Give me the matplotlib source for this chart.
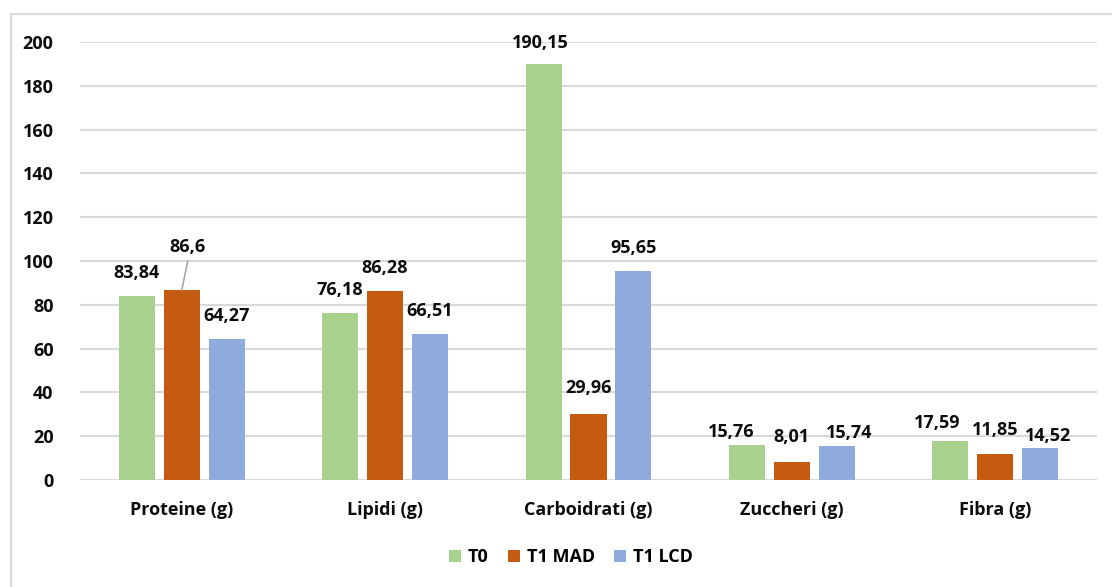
import numpy as np
import matplotlib.pyplot as plt
from matplotlib.patches import Patch
from matplotlib.lines import Line2D

plt.rcParams['font.family'] = ['Open Sans', 'DejaVu Sans']
plt.rcParams['font.weight'] = 'bold'

# data
categories = ['Proteine (g)', 'Lipidi (g)', 'Carboidrati (g)', 'Zuccheri (g)', 'Fibra (g)']
series_names = ['T0', 'T1 MAD', 'T1 LCD']
t0 = [83.84, 76.18, 190.15, 15.76, 17.59]
t1_mad = [86.6, 86.28, 29.96, 8.01, 11.85]
t1_lcd = [64.27, 66.51, 95.65, 15.74, 14.52]
yticks = [0, 20, 40, 60, 80, 100, 120, 140, 160, 180, 200]

colors = ['#A9D18E', '#C55A11', '#8FAADC']

# labels that were nudged by hand (series, category) -> (dx, dy) in pixels
label_moves = {
    (1, 0): (6, 43),
    (0, 3): (-16, 13), (1, 3): (0, 25), (2, 3): (12, 13),
    (0, 4): (-13, 18), (1, 4): (0, 24), (2, 4): (8, 12),
    (0, 2): (-3, 21), (1, 2): (0, 26),
}

def fmt(v):
    s = ('%.2f' % v).rstrip('0').rstrip('.')
    return s.replace('.', ',')

FS = 13
TXT = '#0d0d0d'

W, H = 1112, 587
fig = plt.figure(figsize=(W / 100, H / 100), dpi=100)
ax = fig.add_axes([80 / W, 1 - 480 / H, (1097 - 80) / W, (480 - 42) / H])

# chart border (top and left edges visible)
fig.add_artist(Line2D([11 / W, 1], [1 - 14 / H, 1 - 14 / H], transform=fig.transFigure,
                      color='#d9d9d9', lw=1.5))
fig.add_artist(Line2D([11 / W, 11 / W], [0, 1 - 14 / H], transform=fig.transFigure,
                      color='#d9d9d9', lw=1.5))

x = np.arange(len(categories))
step = 0.221
width = 0.177
all_series = [t0, t1_mad, t1_lcd]

for k, vals in enumerate(all_series):
    xs = x + (k - 1) * step
    ax.bar(xs, vals, width, color=colors[k], zorder=3, label=series_names[k])
    for i, v in enumerate(vals):
        dx, dy = label_moves.get((k, i), (0, 23))
        ax.annotate(fmt(v), (xs[i], v), xytext=(dx, dy), textcoords='offset pixels',
                    ha='center', va='center', fontsize=FS, fontweight='bold',
                    color=TXT, zorder=5)
        if (k, i) == (1, 0):
            # leader line for the displaced label
            ax.annotate('', (xs[i], v), xytext=(dx, dy - 14), textcoords='offset pixels',
                        arrowprops=dict(arrowstyle='-', color='#a6a6a6', lw=1.2,
                                        shrinkA=0, shrinkB=0))

ax.set_xlim(-0.5, len(categories) - 0.5)
ax.set_ylim(0, 200)
ax.set_yticks(yticks)
ax.set_yticklabels([str(t) for t in yticks], fontsize=FS, fontweight='bold', color=TXT)
ax.set_xticks(x)
ax.set_xticklabels(categories, fontsize=FS, fontweight='bold', color=TXT)
ax.tick_params(axis='y', length=0, pad=19)
ax.tick_params(axis='x', length=0, pad=15)
ax.grid(axis='y', color='#d9d9d9', lw=1.5, zorder=0)
for s in ax.spines.values():
    s.set_visible(False)

handles = [Patch(facecolor=c, label=n) for c, n in zip(colors, series_names)]
fig.legend(handles=handles, loc='center', bbox_to_anchor=(571 / W, 1 - 557 / H), ncol=3,
           frameon=False, handlelength=0.67, handleheight=0.67,
           handletextpad=0.4, columnspacing=1.05, prop={'weight': 'bold', 'size': FS})

fig.savefig('out.png', dpi=100)
